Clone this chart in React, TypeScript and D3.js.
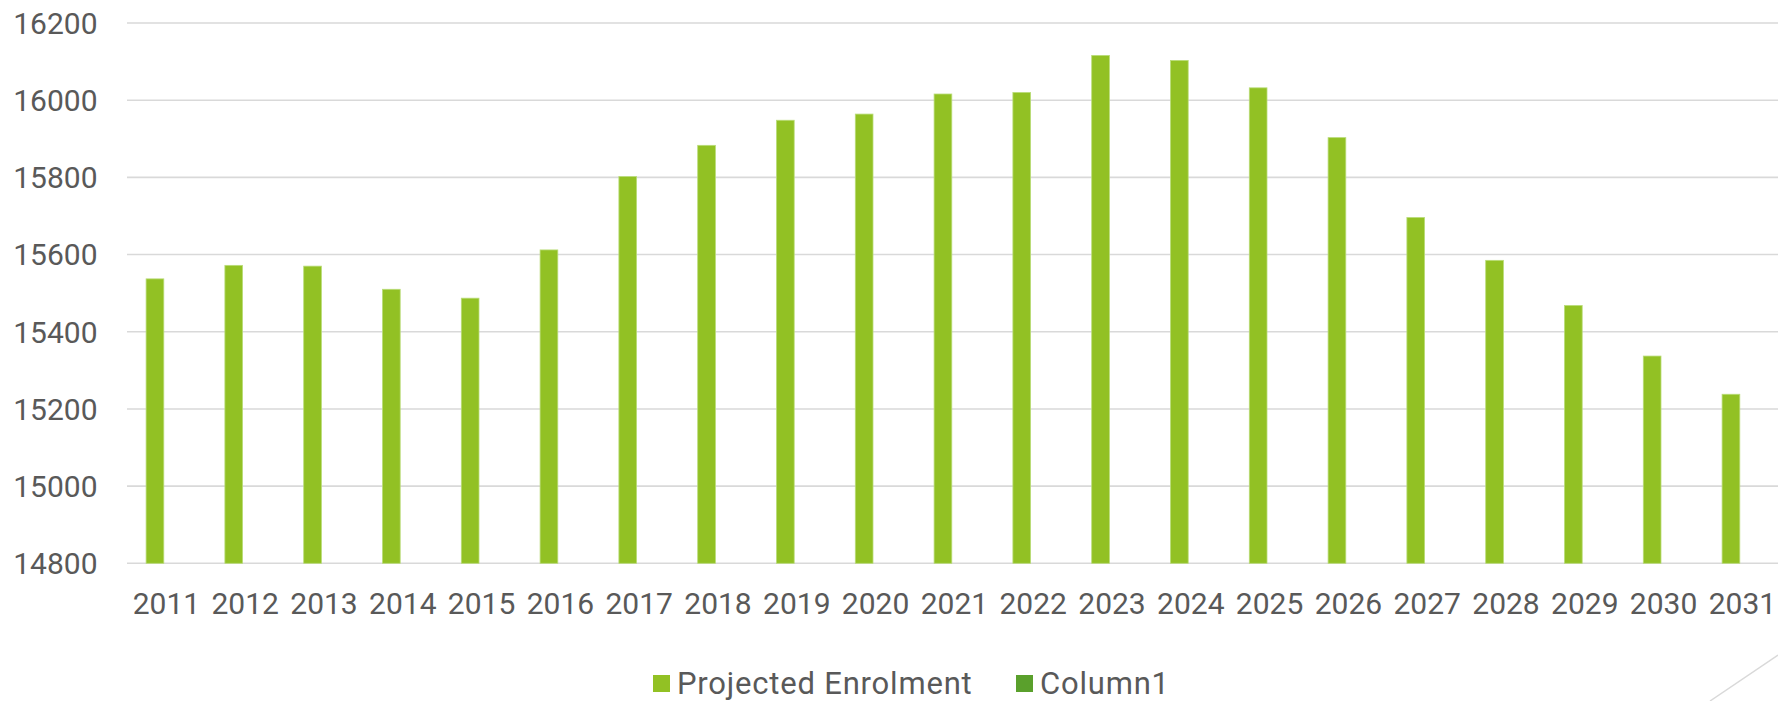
import React, { useEffect, useRef } from 'react';
import * as d3 from 'd3';

const years = ['2011', '2012', '2013', '2014', '2015', '2016', '2017', '2018', '2019', '2020', '2021',
  '2022', '2023', '2024', '2025', '2026', '2027', '2028', '2029', '2030', '2031'];
const projectedEnrolment = [15537, 15572, 15570, 15510, 15487, 15612, 15802, 15883, 15948, 15964, 16016,
  16020, 16116, 16103, 16032, 15903, 15696, 15585, 15468, 15337, 15238];
// second series is empty in the source sheet, only shows in the legend
const column1 = years.map(() => null);
const seriesNames = ['Projected Enrolment', 'Column1'];
const seriesColors = ['#92C124', '#5AA02C'];
const yTicks = [14800, 15000, 15200, 15400, 15600, 15800, 16000, 16200];

const App = () => {
  const chartRef = useRef(null);

  useEffect(() => {
    const svg = d3.select(chartRef.current);
    svg.selectAll('*').remove();

    const width = 1778;
    const height = 701;
    const left = 127;
    const step = 78.8;
    const font = 'Roboto, "Open Sans", sans-serif';
    const textColor = '#595959';

    svg.attr('width', width).attr('height', height);

    const y = d3.scaleLinear().domain([14800, 16200]).range([563.3, 23]);
    const x = d3.scaleBand().domain(years).range([left, left + step * years.length]).padding(0);
    const x1 = d3.scaleBand()
      .domain(seriesNames)
      .range([0, x.bandwidth()])
      .paddingInner(0)
      .paddingOuter(1.226)
      .align(0.44);

    // gridlines
    svg.append('g')
      .selectAll('line')
      .data(yTicks)
      .enter()
      .append('line')
      .attr('x1', left)
      .attr('x2', width)
      .attr('y1', d => y(d))
      .attr('y2', d => y(d))
      .attr('stroke', '#D9D9D9')
      .attr('stroke-width', 1.6);

    // y labels
    svg.append('g')
      .selectAll('text')
      .data(yTicks)
      .enter()
      .append('text')
      .attr('x', 97.5)
      .attr('y', d => y(d))
      .attr('dy', '0.36em')
      .attr('text-anchor', 'end')
      .attr('font-family', font)
      .attr('font-size', 30)
      .attr('fill', textColor)
      .text(d => d);

    // bars
    const data = [projectedEnrolment, column1];
    seriesNames.forEach((name, si) => {
      svg.append('g')
        .selectAll('rect')
        .data(years.map((yr, i) => ({ yr, v: data[si][i] })).filter(d => d.v != null))
        .enter()
        .append('rect')
        //@ts-ignore
        .attr('x', d => x(d.yr) + x1(name))
        .attr('y', d => y(d.v))
        .attr('width', x1.bandwidth())
        .attr('height', d => y(14800) - y(d.v))
        .attr('fill', seriesColors[si])
        .attr('stroke', '#B9DC78')
        .attr('stroke-width', 0.8);
    });

    // x labels
    svg.append('g')
      .selectAll('text')
      .data(years)
      .enter()
      .append('text')
      //@ts-ignore
      .attr('x', d => x(d) + x.bandwidth() / 2)
      .attr('y', 614)
      .attr('text-anchor', 'middle')
      .attr('font-family', font)
      .attr('font-size', 30)
      .attr('fill', textColor)
      .text(d => d);

    // legend
    const legendX = [653, 1016];
    const legend = svg.append('g');
    seriesNames.forEach((name, i) => {
      legend.append('rect')
        .attr('x', legendX[i])
        .attr('y', 675)
        .attr('width', 17)
        .attr('height', 17)
        .attr('fill', seriesColors[i]);
      legend.append('text')
        .attr('x', legendX[i] + 24)
        .attr('y', 693.5)
        .attr('font-family', font)
        .attr('font-size', 31)
        .attr('letter-spacing', 0.8)
        .attr('fill', textColor)
        .text(name);
    });

    // slide decoration in the corner
    svg.append('line')
      .attr('x1', 1710)
      .attr('y1', 701)
      .attr('x2', 1778)
      .attr('y2', 655)
      .attr('stroke', '#D9D9D9')
      .attr('stroke-width', 1.5);
  }, []);

  return (
    <svg ref={chartRef} style={{ position: 'absolute', left: 0, top: 0, display: 'block' }}></svg>
  );
};

export default App;
